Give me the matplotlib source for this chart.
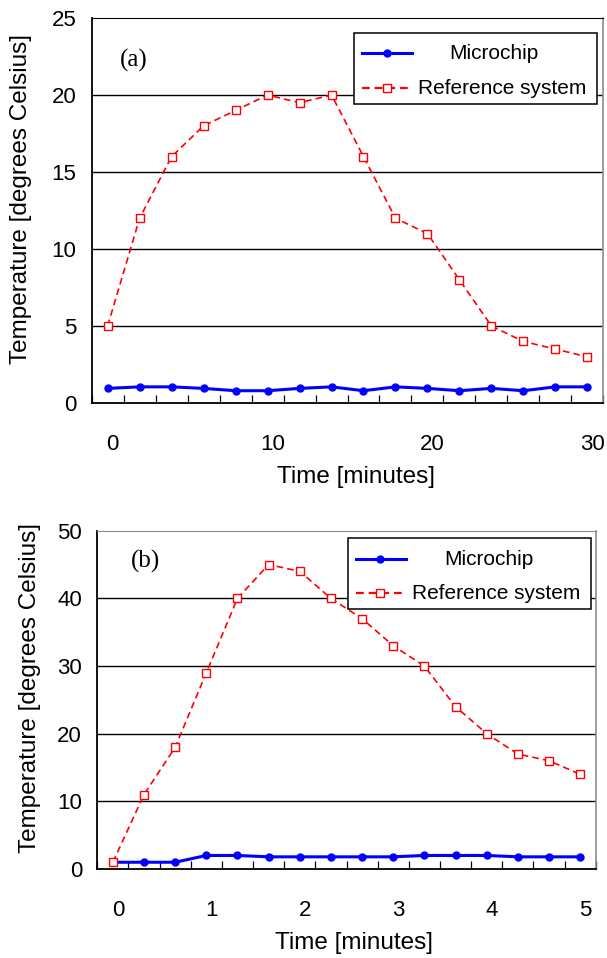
import matplotlib
matplotlib.use("Agg")
import matplotlib.pyplot as plt
import numpy as np
from matplotlib.lines import Line2D
from matplotlib.patches import Rectangle
from matplotlib.transforms import ScaledTranslation

plt.rcParams['font.family'] = ['Liberation Sans', 'DejaVu Sans']

# ---- data panel (a) ----
time_a = [0, 2, 4, 6, 8, 10, 12, 14, 16, 18, 20, 22, 24, 26, 28, 30]
ref_a = [5, 12, 16, 18, 19, 20, 19.5, 20, 16, 12, 11, 8, 5, 4, 3.5, 3]
chip_a = [0.95, 1.05, 1.05, 0.95, 0.8, 0.8, 0.95, 1.05, 0.8, 1.05, 0.95, 0.8, 0.95, 0.8, 1.05, 1.05]
xticks_a = [0, 10, 20, 30]
yticks_a = [0, 5, 10, 15, 20, 25]

# ---- data panel (b) ----
time_b = [0, 0.333, 0.667, 1.0, 1.333, 1.667, 2.0, 2.333, 2.667, 3.0, 3.333, 3.667, 4.0, 4.333, 4.667, 5.0]
ref_b = [1, 11, 18, 29, 40, 45, 44, 40, 37, 33, 30, 24, 20, 17, 16, 14]
chip_b = [1, 1, 1, 2, 2, 1.8, 1.8, 1.8, 1.8, 1.8, 2, 2, 2, 1.8, 1.8, 1.8]
xticks_b = [0, 1, 2, 3, 4, 5]
yticks_b = [0, 10, 20, 30, 40, 50]

labels = ["Microchip", "Reference system"]
xlabel = "Time [minutes]"
ylabel = "Temperature [degrees Celsius]"

fig = plt.figure(figsize=(6.07, 9.58), dpi=100)
ax_a = fig.add_axes([0.151, 0.5793, 0.843, 0.4019])
ax_b = fig.add_axes([0.1603, 0.0929, 0.8211, 0.3531])

BLUE = '#0000ff'
RED = '#ff0000'


def draw(ax, t, ref, chip, xt, yt, step, panel, top_color, leg, lab_x, lab_y):
    ax.plot(t, chip, color=BLUE, lw=2.2, marker='o', ms=5, mfc=BLUE, mec=BLUE, zorder=4)
    l, = ax.plot(t, ref, color=RED, lw=1.2, marker='s', ms=5.5, mfc='white', mec=RED, mew=1.0, zorder=5)
    l.set_dashes((4, 2.5))
    ax.set_xlim(t[0] - step / 2, t[-1] + step / 2)
    ax.set_ylim(yt[0], yt[-1])
    ax.set_yticks(yt)
    ax.set_xticks(xt)
    ax.set_xticks(np.arange(len(t) + 1) * step + t[0] - step / 2, minor=True)
    ax.tick_params(axis='x', which='minor', direction='in', length=5.5, width=0.9, color='black')
    ax.tick_params(axis='x', which='major', length=0, pad=22, labelsize=16)
    ax.tick_params(axis='y', which='major', length=0, pad=11, labelsize=16)
    for lb in ax.get_xticklabels():
        lb.set_transform(lb.get_transform() + ScaledTranslation(0.05, 0, fig.dpi_scale_trans))
    for y in yt[1:-1]:
        ax.axhline(y, color='black', lw=1.0, zorder=1)
    ax.spines['left'].set_color('black')
    ax.spines['bottom'].set_color('black')
    ax.spines['left'].set_linewidth(1.3)
    ax.spines['bottom'].set_linewidth(1.3)
    ax.spines['top'].set_color(top_color)
    ax.spines['right'].set_color('#8c8c8c')
    ax.spines['right'].set_linewidth(1.2)
    ax.set_xlabel(xlabel, fontsize=17.5)
    ax.set_ylabel(ylabel, fontsize=17.5)
    ax.xaxis.set_label_coords(lab_x[0], lab_x[1])
    ax.yaxis.set_label_coords(lab_y[0], lab_y[1])
    ax.text(panel[1], panel[2], panel[0], transform=ax.transAxes, fontsize=18,
            family=['Liberation Serif', 'DejaVu Serif'], ha='center', va='center')
    # Excel-style legend
    x0, x1, y0, y1, r1, r2, h0, h1, hm, tc, tl = leg
    ax.add_patch(Rectangle((x0, y0), x1 - x0, y1 - y0, transform=ax.transAxes,
                           facecolor='white', edgecolor='black', lw=1.1, zorder=10))
    ax.add_line(Line2D([h0, h1], [r1, r1], transform=ax.transAxes, color=BLUE, lw=2.2, zorder=11))
    ax.add_line(Line2D([hm], [r1], transform=ax.transAxes, color=BLUE, marker='o', ms=5, zorder=12))
    ll = Line2D([h0, h1], [r2, r2], transform=ax.transAxes, color=RED, lw=1.6, zorder=11)
    ll.set_dashes((3.5, 2.2))
    ax.add_line(ll)
    ax.add_line(Line2D([hm], [r2], transform=ax.transAxes, color=RED, marker='s', ms=5.5,
                       mfc='white', mec=RED, mew=1.0, zorder=12))
    ax.text(tc, r1, labels[0], transform=ax.transAxes, fontsize=15, ha='center', va='center', zorder=12)
    ax.text(tl, r2, labels[1], transform=ax.transAxes, fontsize=15, ha='left', va='center', zorder=12)


draw(ax_a, time_a, ref_a, chip_a, xticks_a, yticks_a, 2, ('(a)', 0.083, 0.891), 'black',
     (0.513, 0.988, 0.777, 0.961, 0.908, 0.817, 0.528, 0.626, 0.577, 0.787, 0.638),
     (0.516, -0.164), (-0.117, 0.529))
draw(ax_b, time_b, ref_b, chip_b, xticks_b, yticks_b, 1 / 3, ('(b)', 0.096, 0.908), '#8c8c8c',
     (0.504, 0.991, 0.769, 0.978, 0.916, 0.815, 0.520, 0.619, 0.568, 0.785, 0.632),
     (0.515, -0.186), (-0.112, 0.536))

fig.savefig('out.png', dpi=100)
